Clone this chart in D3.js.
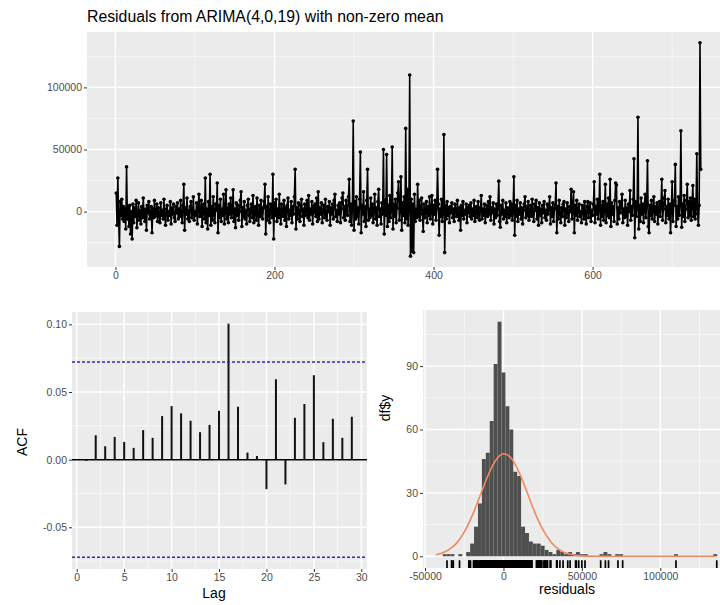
<!DOCTYPE html>
<html>
<head>
<meta charset="utf-8">
<script src="https://cdn.jsdelivr.net/npm/d3@7"></script>
<style>
body { margin: 0; background: #fff; }
text { font-family: "Liberation Sans", Arial, sans-serif; }
</style>
</head>
<body>
<svg id="chart" width="720" height="605"></svg>
<script>
// residuals, in thousands
var residualsK = [
15, -11, 27, -5, -28, 8, -3, 10, -6, 4, -8, 2, -14, 36, -6, 3, -12, 5, -18, 0,
-22, 6, -9, 3, -4, 9, -13, -2, 7, -7, 1, -10, 4, -5, 11, -3, -8, 2, -15, 5,
-1, 8, -6, -3, 4, -17, 2, -5, 9, -4, -1, 6, -8, 3, -2, -9, 7, -3, 1, -6,
10, -4, -11, 2, 5, -7, 0, -3, 8, -10, 3, -2, 6, -5, -8, 4, -1, 7, -6, 2,
-4, 9, -3, -9, 5, 22, -15, 3, -2, 11, -6, 1, -8, 4, 8, -5, -2, 12, -7, 0,
-3, 7, -10, 2, 14, -4, -1, 9, -12, 3, 6, -6, 27, -9, 2, -14, 8, -3, 30, -11,
4, -7, 12, -2, -9, 6, 1, 23, -17, 5, -5, 10, -8, 2, -3, 14, -10, 1, 17.5, -6,
3, -9, 6, -2, 11, -5, -1, 17.5, -8, 2, -13, 7, -3, 5, -7, 0, 9, 16, -12, 3,
-4, 8, -6, 1, -10, 5, 10, -3, -8, 2, 6, -5, 13, -9, 0, 4, -7, 11, -2, -11,
5, -4, 9, -1, -6, 3, 8, 22, -18, 4, -7, 12, -3, -9, 6, 1, -5, 30, -22, 7,
-3, 10, -8, 2, -5, 14, -2, -10, 6, 0, -4, 9, -7, 3, -12, 5, 11, -6, 1, -3,
8, -9, 4, -2, 12, 34, -14, 3, -6, 7, -1, -8, 5, 10, -4, 2, -11, 6, -3, 0,
9, -5, 13, -7, 2, -2, 8, -10, 4, -1, 6, -4, 11, -8, 16, -6, 3, -2, 7, -9,
1, 5, -5, 10, -3, -7, 4, 0, 8, -11, 3, -2, 6, -6, 9, 14, -4, 1, -8, 5,
-2, 7, -9, 2, 11, 15, -5, 4, -7, 9, 0, -3, 12, 26, -8, 6, -11, 3, 73, -15,
8, -6, 12, -4, 3, -10, 10, 48, -17, 5, -2, 16, -8, 4, -12, 9, 34, -7, 2, -5,
11, -3, 6, -9, 1, 14, -6, 3, -11, 8, 18, -4, 2, -10, 7, -2, 50, -18, 9, -3,
46, -12, 5, -8, 13, -5, 1, 52, -14, 6, -4, 10, -9, 3, 15, 24, -7, 2, 28, -15,
7, -3, 12, -9, 67, -6, 18, -11, 4, 110, -36, 10, -32, 6, -33, 14, -8, 2, -5, 22,
-4, 9, -7, 3, 11, -2, -16, 6, -5, 1, 8, -9, 4, -3, 12, -6, 0, 13, -10, 5,
-2, 9, -7, 3, 34, 6, -19, 2, -4, 10, -8, 1, 62, -33, 5, -6, 8, -3, 3, -9,
4, -1, 7, -5, 2, -8, 6, 0, -4, 9, -2, -7, 3, -15, 5, -3, 8, -6, 1, -2,
6, -9, 3, -1, 5, -4, 7, -6, 2, -3, 9, -8, 0, 4, -5, 8, -2, -7, 3, 13,
-6, 2, -3, 6, -9, 1, 5, -4, 8, -2, 12, -7, 3, -1, 7, -10, 2, -5, 6, -3,
4, 24.5, -8, -12.6, 5, -2, 9, -6, 1, -4, 7, -9, 3, 0, -5, 8, -3, 6, -7, 2,
28, -19, 5, -4, 9, -8, 2, -2, 7, -6, 3, -10, 1, 6, 12, -5, 4, -3, 8, -7,
0, 5, -4, 10, -2, -8, 6, 1, 9, -6, 3, -11, 7, -3, 2, -9, 5, -1, 8, -5,
1, -7, 6, -2, 4, 12, -10, 3, -4, 7, -8, 2, 5, 23, -17, 4, -6, 9, -2, -9,
3, -4, 6, 8, -11, 2, -5, 7, -1, -8, 4, 0, 18, -6, 3, 16, -17, 5, -3, 9,
-7, 2, 6, -4, 0, -9, 5, 3, -6, 8, -2, -10, 4, 8, -5, 2, 7, -8, 1, -3,
6, 24, -9, 4, -2, 10, -6, 3, 30, -11, 5, -4, 8, -7, 2, 22, -9, 6, -3, 11,
-5, 26, -12, 7, -2, 4, -8, 9, 23, 21.5, -10, 3, -6, 8, -1, 5, 14, -9, 2, -5,
9, -4, 3, -11, 6, 0, 17, -7, 4, -3, 10, 42.5, -21, 8, -4, 3, 76, -14, 5, -8,
11, -2, 6, -9, 3, 14, -5, 7, 41, -12, -17, 5, -3, 9, -6, 2, 12, -8, 4, -2,
7, -10, 3, 8, -4, 5, 26, -7, 2, 11, 17, -9, 4, -3, 10, -6, 6, -17, 3, 24,
-8, 5, 9, 38, -12, 4, -6, 12, -3, 7, 65, -12.6, 6, -4, 13, -8, 2, 9, 22, -5,
8, -3, 11, -7, 5, 21, -4, 10, -6, 3, 46.5, -2, -11, 5, 136, 34
];

// ACF at lags 1..29
var acfValues = [-0.001, 0.018, 0.0099, 0.0168, 0.0131, 0.0087, 0.0218, 0.0161, 0.0322, 0.0396,
  0.0342, 0.0287, 0.0203, 0.0257, 0.0361, 0.1005, 0.0391, 0.0052, 0.0027, -0.0218,
  0.0594, -0.0183, 0.0309, 0.0411, 0.0624, 0.0129, 0.0302, 0.0161, 0.0317];
var acfBound = 0.0722;

// histogram (bin centres and counts)
var binWidth = 2500;
var binCenters = [-37500, -35000, -32500, -27500, -22500, -20000, -17500, -15000, -12500, -10000,
  -7500, -5000, -2500, 0, 2500, 5000, 7500, 10000, 12500, 15000,
  17500, 20000, 22500, 25000, 27500, 30000, 32500, 35000, 37500, 40000,
  42500, 45000, 47500, 50000, 52500, 62500, 65000, 67500, 72500, 75000,
  110000, 135000];
var binCounts = [1, 1, 1, 1, 2, 6, 14, 25, 46, 49,
  64, 91, 111, 87, 71, 60, 40, 38, 14, 11,
  7, 6, 6, 5, 3, 2, 1, 3, 2, 1,
  2, 1, 2, 1, 1, 1, 2, 1, 1, 1,
  1, 1];

// normal curve
var curveX = [-43000, -40000, -35000, -30000, -25000, -20000, -15000, -10000, -5000, 0,
  5000, 10000, 15000, 20000, 25000, 30000, 35000, 40000, 45000, 50000,
  55000, 60000, 70000, 135000];
var curveY = [0.7, 1.3, 3, 6.1, 11.4, 19.1, 28.4, 38, 45.3, 48.5,
  46.4, 39.7, 30.4, 20.8, 12.8, 7, 3.4, 1.5, 0.6, 0.2,
  0.07, 0.02, 0, 0];

var residuals = residualsK.map(function(v, i) { return { t: i + 1, v: v * 1000 }; });

var svg = d3.select("#chart");
var tickCol = "#4d4d4d";

// ggplot prints a plain hyphen, not d3's unicode minus
function fmt(spec) {
  var f = d3.format(spec);
  return function(d) { return f(d).replace("\u2212", "-"); };
}

function drawPanel(p) {
  var g = svg.append("g");
  g.append("rect")
    .attr("x", p.x0).attr("y", p.y0)
    .attr("width", p.x1 - p.x0).attr("height", p.y1 - p.y0)
    .attr("fill", "#ebebeb");
  g.selectAll(".xmin").data(p.xMinor).enter().append("line")
    .attr("x1", p.xs).attr("x2", p.xs).attr("y1", p.y0).attr("y2", p.y1)
    .attr("stroke", "#fafafa").attr("stroke-width", 0.7);
  g.selectAll(".ymin").data(p.yMinor).enter().append("line")
    .attr("y1", p.ys).attr("y2", p.ys).attr("x1", p.x0).attr("x2", p.x1)
    .attr("stroke", "#fafafa").attr("stroke-width", 0.7);
  g.selectAll(".xmaj").data(p.xMajor).enter().append("line")
    .attr("x1", p.xs).attr("x2", p.xs).attr("y1", p.y0).attr("y2", p.y1)
    .attr("stroke", "#fff").attr("stroke-width", 1.4);
  g.selectAll(".ymaj").data(p.yMajor).enter().append("line")
    .attr("y1", p.ys).attr("y2", p.ys).attr("x1", p.x0).attr("x2", p.x1)
    .attr("stroke", "#fff").attr("stroke-width", 1.4);

  var ax = svg.append("g")
    .attr("transform", "translate(0," + p.y1 + ")")
    .call(d3.axisBottom(p.xs).tickValues(p.xMajor).tickSize(3).tickPadding(2).tickFormat(p.xFmt));
  var ay = svg.append("g")
    .attr("transform", "translate(" + p.x0 + ",0)")
    .call(d3.axisLeft(p.ys).tickValues(p.yMajor).tickSize(3).tickPadding(2).tickFormat(p.yFmt));
  [ax, ay].forEach(function(a) {
    a.select(".domain").remove();
    a.selectAll(".tick line").attr("stroke", "#333");
    a.selectAll(".tick text").attr("fill", tickCol).style("font-size", "10.5px")
      .style("font-family", "'Liberation Sans', Arial, sans-serif");
  });
  return g;
}

// ---------- top: residual series ----------
var n = residuals.length;
var tsBox = { x0: 87, y0: 32, x1: 730, y1: 267 };
var ext = d3.extent(residuals, function(d) { return d.v; });
var padY = (ext[1] - ext[0]) * 0.05, padX = (n - 1) * 0.05;
var xTs = d3.scaleLinear().domain([1 - padX, n + padX]).range([tsBox.x0, tsBox.x1]);
var yTs = d3.scaleLinear().domain([ext[0] - padY, ext[1] + padY]).range([tsBox.y1, tsBox.y0]);

var gTs = drawPanel({
  x0: tsBox.x0, y0: tsBox.y0, x1: tsBox.x1, y1: tsBox.y1, xs: xTs, ys: yTs,
  xMajor: [0, 200, 400, 600], xMinor: [100, 300, 500, 700],
  yMajor: [0, 50000, 100000], yMinor: [-25000, 25000, 75000, 125000],
  xFmt: fmt("d"), yFmt: fmt("d")
});

gTs.append("path")
  .datum(residuals)
  .attr("fill", "none").attr("stroke", "#000").attr("stroke-width", 1.6)
  .attr("stroke-linejoin", "round")
  .attr("d", d3.line().x(function(d) { return xTs(d.t); }).y(function(d) { return yTs(d.v); }));
gTs.selectAll(".pt").data(residuals).enter().append("circle")
  .attr("cx", function(d) { return xTs(d.t); })
  .attr("cy", function(d) { return yTs(d.v); })
  .attr("r", 1.8).attr("fill", "#000");

svg.append("text").attr("x", 87).attr("y", 22)
  .style("font-size", "15.8px").attr("fill", "#000")
  .text("Residuals from ARIMA(4,0,19) with non-zero mean");

// ---------- bottom left: ACF ----------
var acfBox = { x0: 72, y0: 312, x1: 367, y1: 569 };
var xAcf = d3.scaleLinear().domain([-0.5, 30.6]).range([acfBox.x0, acfBox.x1]);
var acfMax = d3.max(acfValues), acfMin = -acfBound;
var acfPad = (acfMax - acfMin) * 0.05;
var yAcf = d3.scaleLinear().domain([acfMin - acfPad, acfMax + acfPad]).range([acfBox.y1, acfBox.y0]);

var gAcf = drawPanel({
  x0: acfBox.x0, y0: acfBox.y0, x1: acfBox.x1, y1: acfBox.y1, xs: xAcf, ys: yAcf,
  xMajor: [0, 5, 10, 15, 20, 25, 30], xMinor: [2.5, 7.5, 12.5, 17.5, 22.5, 27.5],
  yMajor: [-0.05, 0, 0.05, 0.10], yMinor: [-0.075, -0.025, 0.025, 0.075],
  xFmt: fmt("d"), yFmt: fmt(".2f")
});

gAcf.append("line")
  .attr("x1", acfBox.x0).attr("x2", acfBox.x1).attr("y1", yAcf(0)).attr("y2", yAcf(0))
  .attr("stroke", "#000").attr("stroke-width", 1.5);
gAcf.selectAll(".bar").data(acfValues).enter().append("line")
  .attr("x1", function(d, i) { return xAcf(i + 1); })
  .attr("x2", function(d, i) { return xAcf(i + 1); })
  .attr("y1", yAcf(0))
  .attr("y2", function(d) { return yAcf(d); })
  .attr("stroke", "#111").attr("stroke-width", 2);
gAcf.selectAll(".ci").data([acfBound, -acfBound]).enter().append("line")
  .attr("x1", acfBox.x0).attr("x2", acfBox.x1)
  .attr("y1", function(d) { return yAcf(d); }).attr("y2", function(d) { return yAcf(d); })
  .attr("stroke", "#2b2bc0").attr("stroke-width", 1.5).attr("stroke-dasharray", "3,2");

svg.append("text").attr("transform", "translate(27,442) rotate(-90)")
  .attr("text-anchor", "middle").style("font-size", "14px").text("ACF");
svg.append("text").attr("x", 214).attr("y", 598)
  .attr("text-anchor", "middle").style("font-size", "14px").text("Lag");

// ---------- bottom right: histogram ----------
var histBox = { x0: 423, y0: 310, x1: 734, y1: 568 };
var xHist = d3.scaleLinear().domain([-51300, 147000]).range([histBox.x0, histBox.x1]);
var cMax = d3.max(binCounts);
var yHist = d3.scaleLinear().domain([-cMax * 0.05, cMax * 1.05]).range([histBox.y1, histBox.y0]);

var gHist = drawPanel({
  x0: histBox.x0, y0: histBox.y0, x1: histBox.x1, y1: histBox.y1, xs: xHist, ys: yHist,
  xMajor: [-50000, 0, 50000, 100000], xMinor: [-25000, 25000, 75000, 125000],
  yMajor: [0, 30, 60, 90], yMinor: [15, 45, 75, 105],
  xFmt: fmt("d"), yFmt: fmt("d")
});

gHist.selectAll(".bin").data(binCenters).enter().append("rect")
  .attr("x", function(d) { return xHist(d - binWidth / 2); })
  .attr("width", function(d) { return xHist(d + binWidth / 2) - xHist(d - binWidth / 2); })
  .attr("y", function(d, i) { return yHist(binCounts[i]); })
  .attr("height", function(d, i) { return yHist(0) - yHist(binCounts[i]); })
  .attr("fill", "#4f4f4f");

gHist.append("path")
  .datum(curveX)
  .attr("fill", "none").attr("stroke", "#ef8a62").attr("stroke-width", 1.6)
  .attr("d", d3.line().curve(d3.curveMonotoneX)
    .x(function(d) { return xHist(d); })
    .y(function(d, i) { return yHist(curveY[i]); }));

var rugLen = (histBox.y1 - histBox.y0) * 0.03;
gHist.selectAll(".rug").data(residuals).enter().append("line")
  .attr("x1", function(d) { return xHist(d.v); })
  .attr("x2", function(d) { return xHist(d.v); })
  .attr("y1", histBox.y1).attr("y2", histBox.y1 - rugLen)
  .attr("stroke", "#000").attr("stroke-width", 1.7);

svg.append("text").attr("transform", "translate(390,408) rotate(-90)")
  .attr("text-anchor", "middle").style("font-size", "14px").text("df$y");
svg.append("text").attr("x", 567).attr("y", 594)
  .attr("text-anchor", "middle").style("font-size", "14px").text("residuals");
</script>
</body>
</html>
